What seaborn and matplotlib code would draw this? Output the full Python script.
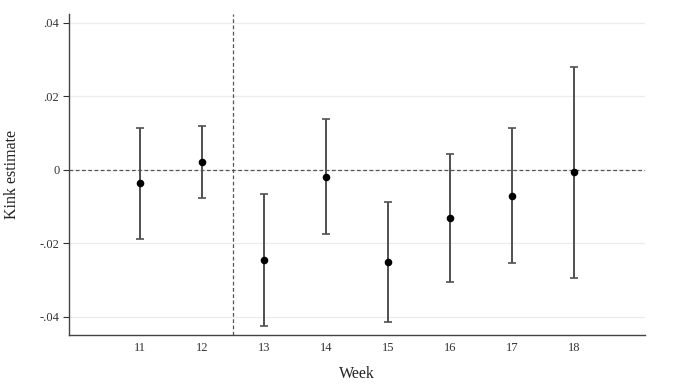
import numpy as np
import pandas as pd
import seaborn as sns
import matplotlib.pyplot as plt

# values
weeks = [11, 12, 13, 14, 15, 16, 17, 18]
estimate = [-0.0037, 0.0020, -0.0247, -0.0019, -0.0250, -0.0132, -0.0071, -0.0007]
ci_low = [-0.0188, -0.0077, -0.0425, -0.0174, -0.0414, -0.0306, -0.0255, -0.0294]
ci_high = [0.0114, 0.0118, -0.0065, 0.0139, -0.0087, 0.0043, 0.0114, 0.0281]
y_ticks = [-0.04, -0.02, 0, 0.02, 0.04]
y_tick_labels = ["-.04", "-.02", "0", ".02", ".04"]

df = pd.DataFrame({"week": weeks, "est": estimate, "lo": ci_low, "hi": ci_high})

sns.set_theme(style="white")
plt.rcParams["font.family"] = ["Liberation Serif", "DejaVu Serif"]

fig = plt.figure(figsize=(6.76, 3.84), dpi=100)
ax = fig.add_axes([0.1021, 0.1276, 0.8520, 0.8359])

for v in y_ticks:
    ax.axhline(v, color="#ececec", lw=0.9, zorder=0)
ax.axhline(0, color="#555555", lw=0.9, ls=(0, (3, 2)), zorder=1)
ax.axvline(12.5, color="#555555", lw=0.9, ls=(0, (3, 2)), zorder=1)

err = np.vstack([df["est"] - df["lo"], df["hi"] - df["est"]])
ax.errorbar(df["week"], df["est"], yerr=err, fmt="none", ecolor="#505050",
            elinewidth=1.4, capsize=3.2, capthick=1.2, zorder=2)
sns.scatterplot(data=df, x="week", y="est", color="black", s=30,
                edgecolor="black", linewidth=0, zorder=3, ax=ax)

ax.set_xlim(9.85, 19.15)
ax.set_ylim(-0.045, 0.0424)
ax.set_xticks(weeks)
ax.set_xticklabels([str(w) for w in weeks], fontsize=9)
ax.set_yticks(y_ticks)
ax.set_yticklabels(y_tick_labels, fontsize=9)
ax.tick_params(axis="x", length=0, pad=5, colors="#333333")
ax.tick_params(axis="y", length=4, width=0.8, pad=3, left=True, colors="#333333")
ax.set_xlabel("Week", fontsize=11.5, labelpad=9, color="#222222")
ax.set_ylabel("Kink estimate", fontsize=11.5, labelpad=14, color="#222222")

for s in ["top", "right"]:
    ax.spines[s].set_visible(False)
for s in ["left", "bottom"]:
    ax.spines[s].set_color("#444444")
    ax.spines[s].set_linewidth(1.0)

fig.savefig("out.png", dpi=100)
